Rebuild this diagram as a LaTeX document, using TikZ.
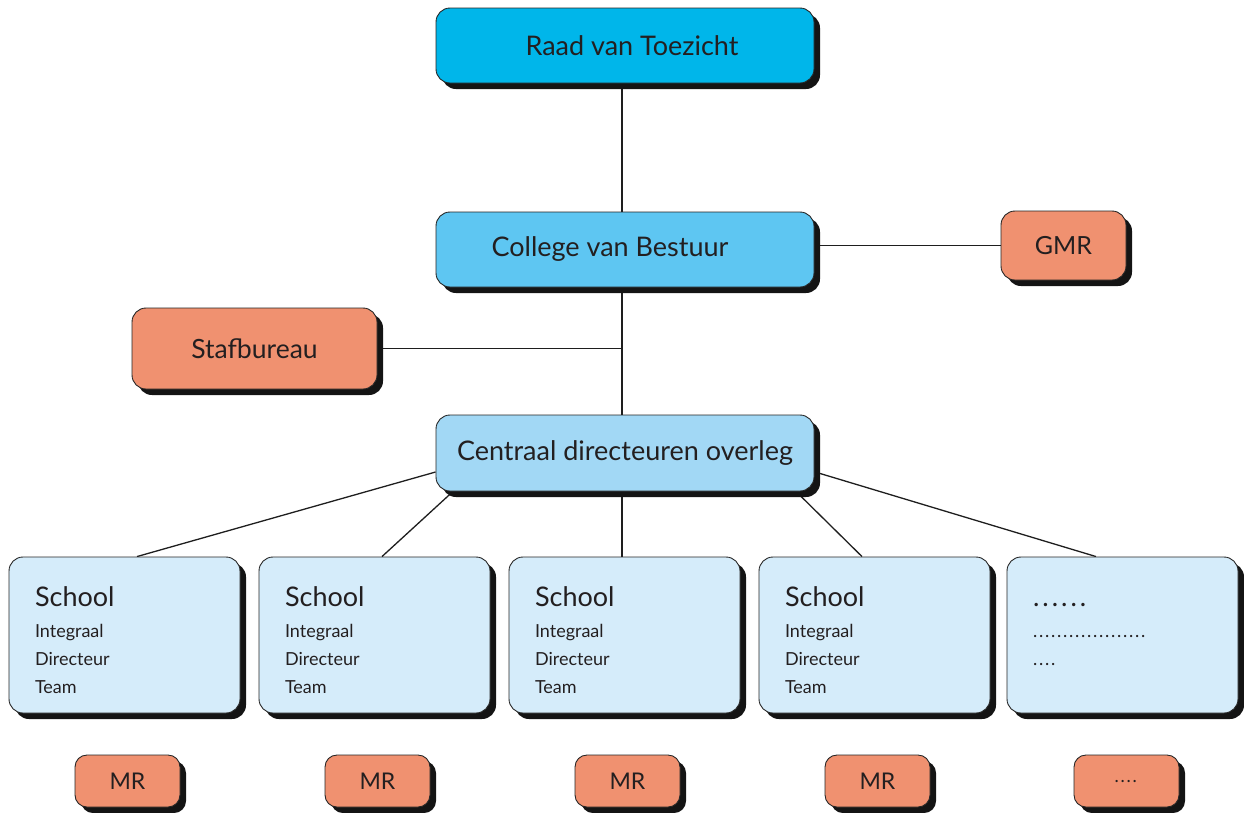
\documentclass[tikz,border=0pt]{standalone}
\usepackage{fontspec}
\setmainfont{Lato}
\usetikzlibrary{shadows,backgrounds}
\definecolor{cRaad}{RGB}{0,182,234}
\definecolor{cCvB}{RGB}{94,198,242}
\definecolor{cCdo}{RGB}{162,216,245}
\definecolor{cSchool}{RGB}{213,236,250}
\definecolor{cOrange}{RGB}{240,145,112}
\definecolor{cText}{RGB}{35,31,32}
\definecolor{cLine}{RGB}{30,30,30}
\newcommand{\dotrow}[2]{\foreach \k in {1,...,#1}{\makebox[#2][l]{.}}}
\begin{document}
\begin{tikzpicture}[x=1pt,y=-1pt,
  box/.style={draw=black!85, line width=0.9pt, rounded corners=14pt,
    general shadow={fill=black!92, shadow xshift=6pt, shadow yshift=-6pt},
    text=cText, inner sep=0pt},
  bigbox/.style={box, minimum width=378pt, minimum height=75pt, font=\fontsize{27}{32}\selectfont},
  orangebox/.style={box, fill=cOrange},
  schoolbox/.style={box, fill=cSchool, minimum width=231pt, minimum height=156pt,
    text width=179pt, align=left, font=\fontsize{18}{28}\selectfont},
  mrbox/.style={box, fill=cOrange, rounded corners=12pt, minimum width=105pt, minimum height=52pt,
    font=\fontsize{23}{28}\selectfont},
  conn/.style={draw=cLine, line width=1.3pt},
]
\useasboundingbox (0,0) rectangle (1244,812);

% main boxes
\node[bigbox, fill=cRaad] (raad) at (625,45.5) {\hspace*{14pt}Raad van Toezicht};
\node[bigbox, fill=cCvB] (cvb) at (625,249.5) {College van Bestuur\hspace*{30pt}};
\node[bigbox, fill=cCdo, minimum height=76pt] (cdo) at (625,453) {Centraal directeuren overleg};
\node[orangebox, minimum width=125pt, minimum height=69pt, font=\fontsize{25}{30}\selectfont] (gmr) at (1063.5,245.5) {GMR};
\node[orangebox, minimum width=245pt, minimum height=81pt, font=\fontsize{26.5}{30}\selectfont] (staf) at (254.5,348.5) {Stafbureau};

% schools
\newcommand{\schooltext}{\rule{0pt}{30pt}{\fontsize{27}{31}\selectfont School}\\[3pt]
  Integraal\\ Directeur\\ Team}
\node[schoolbox] (s1) at (124.5,635) {\schooltext};
\node[schoolbox] (s2) at (374.5,635) {\schooltext};
\node[schoolbox] (s3) at (624.5,635) {\schooltext};
\node[schoolbox] (s4) at (874.5,635) {\schooltext};
\node[schoolbox] (s5) at (1122.5,635) {\rule{0pt}{30pt}{\fontsize{27}{31}\selectfont\dotrow{6}{9.4pt}}\\[3pt]
  \dotrow{19}{6pt}\\ \dotrow{4}{6pt}\\ \phantom{Team}};

% MR
\node[mrbox] (m1) at (127.5,781) {MR};
\node[mrbox] (m2) at (377.5,781) {MR};
\node[mrbox] (m3) at (627.5,781) {MR};
\node[mrbox] (m4) at (877.5,781) {MR};
\node[mrbox] (m5) at (1126.5,781) {\fontsize{18}{28}\selectfont\dotrow{4}{6pt}};

% connectors
\coordinate (j) at (622,348.5);
\begin{scope}[on background layer]
\draw[conn] ([xshift=-3pt]raad.south) -- ([xshift=-3pt]cvb.north);
\draw[conn] ([xshift=-3pt]cvb.south) -- ([xshift=-3pt]cdo.north);
\draw[conn] (staf.east) -- (j);
\draw[conn] (gmr.west) -- (gmr.west -| cvb.east);
\draw[conn] ([yshift=-19pt]cdo.west) -- ([xshift=12.5pt]s1.north);
\draw[conn] ([xshift=-172pt]cdo.south) -- ([xshift=7.5pt]s2.north);
\draw[conn] ([xshift=-3pt]cdo.south) -- ([xshift=-2.5pt]s3.north);
\draw[conn] ([xshift=171pt]cdo.south) -- ([xshift=-12.5pt]s4.north);
\draw[conn] ([yshift=-20pt,xshift=4pt]cdo.east) -- ([xshift=-26.5pt]s5.north);
\end{scope}
\end{tikzpicture}
\end{document}
